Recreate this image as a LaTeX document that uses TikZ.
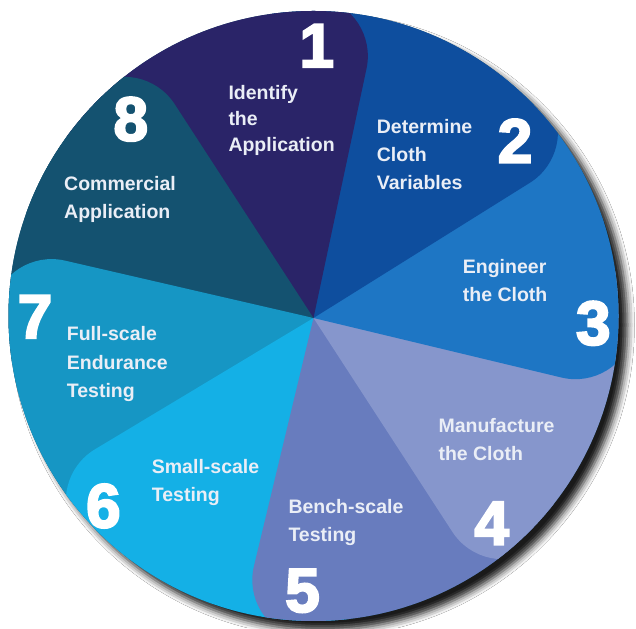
\documentclass[tikz,border=0pt]{standalone}
\usepackage{fontspec}
\setmainfont{Liberation Sans}
\newfontfamily\numfont[FakeBold=3.5]{Liberation Sans}
\usetikzlibrary{shadows.blur}
\definecolor{c1}{RGB}{42,36,104}
\definecolor{c2}{RGB}{14,78,158}
\definecolor{c3}{RGB}{30,118,196}
\definecolor{c4}{RGB}{134,150,204}
\definecolor{c5}{RGB}{104,124,190}
\definecolor{c6}{RGB}{20,176,230}
\definecolor{c7}{RGB}{22,150,196}
\definecolor{c8}{RGB}{20,82,112}
\definecolor{labwhite}{RGB}{234,238,246}
\newcommand\mypetal[2]{%
  \begin{scope}[shift={(313.5,310)},rotate=#1]
    \fill[#2] (0,0) -- (255,0) arc[start angle=-90,end angle=0,radius=60pt] -- (315,700) -- cycle;
  \end{scope}}
\begin{document}
\begin{tikzpicture}[x=1pt,y=1pt,
  lab/.style={anchor=base west,inner sep=0pt,align=left,text=labwhite,
    font=\bfseries\fontsize{19.5}{28.3}\selectfont},
  num/.style={anchor=center,inner sep=0pt,text=white,
    font=\numfont\bfseries\fontsize{62}{62}\selectfont}]
\useasboundingbox (0,0) rectangle (636,628);
\fill[white] (0,0) rectangle (636,628);
\fill[c8,blur shadow={shadow xshift=9pt,shadow yshift=-9pt,shadow blur radius=7pt,shadow opacity=90}] (313.5,312) circle (305pt);
\begin{scope}
  \clip (313.5,312) circle (305pt);
  \mypetal{123}{c8}
  \mypetal{167}{c7}
  \mypetal{211}{c6}
  \mypetal{256.5}{c5}
  \mypetal{303}{c4}
  \mypetal{346.5}{c3}
  \mypetal{32}{c2}
  \mypetal{78}{c1}
  \begin{scope}
    \clip (313.5,310) -- +(100:800pt) -- +(160:800pt) -- cycle;
    \mypetal{123}{c8}
  \end{scope}
\end{scope}
\node[num] (n1) at (316.7,582.2) {1};
\node[num] (n2) at (515,487.2) {2};
\node[num] (n3) at (593.3,304.7) {3};
\node[num] (n4) at (491.7,104.7) {4};
\node[num] (n5) at (302.5,37.2) {5};
\node[num] (n6) at (103.4,122) {6};
\node[num] (n7) at (35,311.3) {7};
\node[num] (n8) at (130.8,508.8) {8};
\node[lab,font=\bfseries\fontsize{19.5}{26}\selectfont] (t1) at (228.3,476) {Identify\\the\\Application};
\node[lab] (t2) at (376.7,438.1) {Determine\\Cloth\\Variables};
\node[lab] (t3) at (462.7,326.4) {Engineer\\the Cloth};
\node[lab] (t4) at (438.3,167) {Manufacture\\the Cloth};
\node[lab] (t5) at (288.3,86.4) {Bench-scale\\Testing};
\node[lab] (t6) at (151.7,126.4) {Small-scale\\Testing};
\node[lab] (t7) at (66.7,230.4) {Full-scale\\Endurance\\Testing};
\node[lab] (t8) at (64,409.2) {Commercial\\Application};
\end{tikzpicture}
\end{document}
